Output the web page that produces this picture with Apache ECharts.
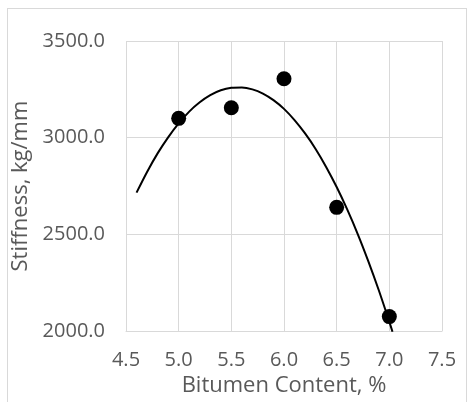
<!DOCTYPE html>
<html>
<head>
<meta charset="utf-8">
<script src="https://cdn.jsdelivr.net/npm/echarts@6/dist/echarts.min.js"></script>
<style>
  body { margin: 0; background: #fff; }
  #chart { width: 468px; height: 402px; }
  #frame { position: absolute; left: 7px; top: 8px; width: 458px; height: 400px;
           border: 1px solid #d9d9d9; pointer-events: none; }
</style>
</head>
<body>
<div id="chart"></div>
<div id="frame"></div>
<script>
  // measured points
  var bitumen = [5.0, 5.5, 6.0, 6.5, 7.0];
  var stiffness = [3100, 3155, 3305, 2640, 2075];

  // trendline (2nd order poly in excel), every 0.1
  var trendX = [4.6, 4.7, 4.8, 4.9, 5.0, 5.1, 5.2, 5.3, 5.4, 5.5, 5.6, 5.7, 5.8, 5.9,
                6.0, 6.1, 6.2, 6.3, 6.4, 6.5, 6.6, 6.7, 6.8, 6.9, 7.0, 7.03];
  var trendY = [2716, 2823, 2919, 3002, 3074, 3135, 3183, 3220, 3245, 3258, 3260, 3250, 3228, 3194,
                3149, 3091, 3022, 2942, 2849, 2745, 2629, 2502, 2362, 2211, 2048, 1997];

  var font = 'Open Sans';
  var grey = '#595959';

  var chart = echarts.init(document.getElementById('chart'));

  var points = bitumen.map(function (x, i) { return [x, stiffness[i]]; });
  var trend = trendX.map(function (x, i) { return [x, trendY[i]]; });

  chart.setOption({
    animation: false,
    grid: { left: 126, right: 26, top: 41, bottom: 69 },
    xAxis: {
      type: 'value',
      min: 4.5,
      max: 7.5,
      interval: 0.5,
      name: 'Bitumen Content, %',
      nameLocation: 'middle',
      nameGap: 42,
      nameTextStyle: { fontFamily: font, fontSize: 22, color: grey },
      axisLine: { show: true, lineStyle: { color: '#d9d9d9', width: 1 } },
      axisTick: { show: false },
      axisLabel: {
        margin: 19,
        fontFamily: font, fontSize: 20, color: grey,
        formatter: function (v) { return v.toFixed(1); }
      },
      splitLine: { show: true, lineStyle: { color: '#d9d9d9', width: 1 } }
    },
    yAxis: {
      type: 'value',
      min: 2000,
      max: 3500,
      interval: 500,
      name: 'Stiffness, kg/mm',
      nameLocation: 'middle',
      nameGap: 85,
      nameTextStyle: { fontFamily: font, fontSize: 22, color: grey },
      axisLine: { show: false },
      axisTick: { show: false },
      axisLabel: {
        margin: 21,
        fontFamily: font, fontSize: 20, color: grey,
        formatter: function (v) { return v.toFixed(1); }
      },
      splitLine: { show: true, lineStyle: { color: '#d9d9d9', width: 1 } }
    },
    series: [
      {
        name: 'Trend',
        type: 'line',
        data: trend,
        smooth: 0.3,
        symbol: 'none',
        clip: true,
        lineStyle: { color: '#000', width: 2 },
        z: 2
      },
      {
        name: 'Stiffness',
        type: 'scatter',
        data: points,
        symbol: 'circle',
        symbolSize: 15,
        itemStyle: { color: '#000', opacity: 1 },
        z: 3
      }
    ]
  });
</script>
</body>
</html>
